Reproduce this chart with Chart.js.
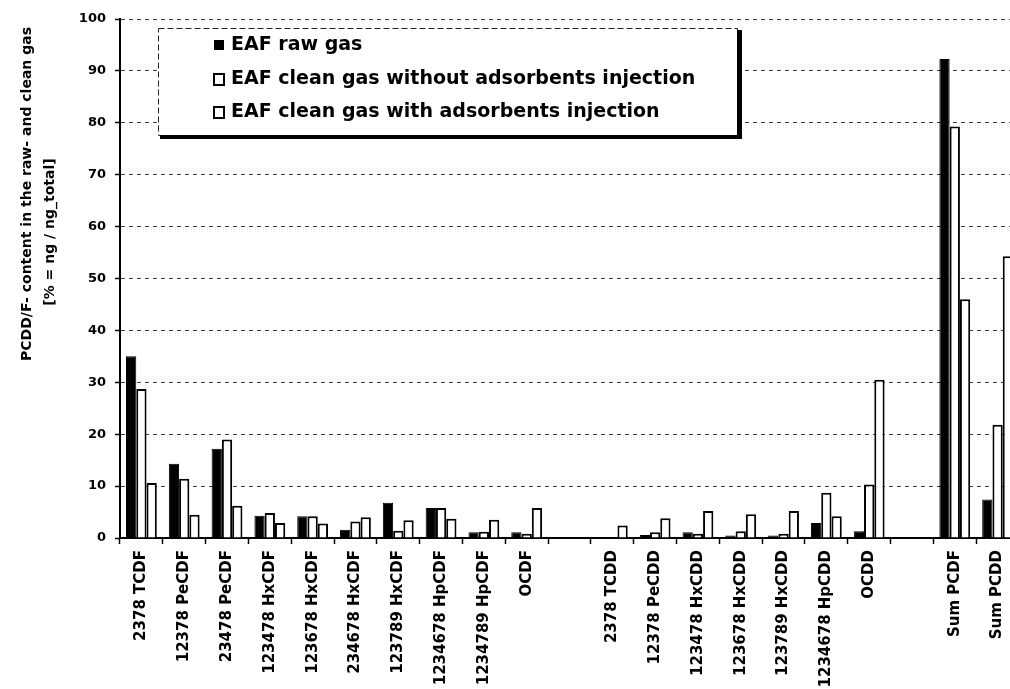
<!DOCTYPE html>
<html>
<head>
<meta charset="utf-8">
<script src="https://cdn.jsdelivr.net/npm/chart.js@4/dist/chart.umd.min.js"></script>
<style>
    html, body { margin: 0; padding: 0; background: #fff; overflow: hidden; }
    #wrap { width: 1030px; height: 689px; }
</style>
</head>
<body>
<div id="wrap"><canvas id="congenerChart"></canvas></div>
<script>
// categorieen (lege plekken = ruimte tussen groepen)
const categories = [
    '2378 TCDF', '12378 PeCDF', '23478 PeCDF', '123478 HxCDF', '123678 HxCDF',
    '234678 HxCDF', '123789 HxCDF', '1234678 HpCDF', '1234789 HpCDF', 'OCDF',
    '',
    '2378 TCDD', '12378 PeCDD', '123478 HxCDD', '123678 HxCDD', '123789 HxCDD',
    '1234678 HpCDD', 'OCDD',
    '',
    'Sum PCDF', 'Sum PCDD'
];

const rawGas = [35.0, 14.3, 17.2, 4.3, 4.2, 1.6, 6.8, 5.8, 1.1, 1.1, null,
    0.1, 0.6, 1.1, 0.5, 0.5, 2.9, 1.3, null, 92.3, 7.4];
const cleanNoAds = [28.7, 11.4, 19.0, 4.8, 4.2, 3.2, 1.4, 5.8, 1.2, 0.8, null,
    0.1, 1.1, 0.8, 1.3, 0.8, 8.7, 10.3, null, 79.3, 21.8];
const cleanWithAds = [10.6, 4.5, 6.2, 2.9, 2.8, 4.0, 3.4, 3.7, 3.5, 5.8, null,
    2.4, 3.8, 5.2, 4.6, 5.2, 4.2, 30.5, null, 46.0, 54.3];

const yTicks = [0, 10, 20, 30, 40, 50, 60, 70, 80, 90, 100];
const yTitle = ['PCDD/F- content in the raw- and clean gas', '[% = ng / ng_total]'];

const fontName = '"DejaVu Sans", sans-serif';

// legenda in een kader met schaduw, zoals in het origineel
const boxLegend = {
    id: 'boxLegend',
    afterDraw(chart) {
        const ctx = chart.ctx;
        ctx.save();
        ctx.fillStyle = '#fff';
        ctx.fillRect(158, 28, 579, 107);
        ctx.strokeStyle = '#222';
        ctx.lineWidth = 1;
        ctx.setLineDash([6, 3]);
        ctx.strokeRect(158.5, 28.5, 579, 107);
        ctx.setLineDash([]);
        ctx.fillStyle = '#000';
        ctx.fillRect(160, 135, 582, 4);
        ctx.fillRect(737, 30, 5, 109);

        ctx.font = 'bold 19px ' + fontName;
        ctx.textBaseline = 'middle';
        const rows = [45, 79, 112];
        chart.data.datasets.forEach((ds, i) => {
            const y = rows[i];
            if (i === 0) {
                ctx.fillStyle = '#000';
                ctx.fillRect(214, y - 5, 10, 10);
            } else {
                ctx.strokeStyle = '#000';
                ctx.lineWidth = 2;
                ctx.strokeRect(214, y - 5, 10, 11);
            }
            ctx.fillStyle = '#000';
            ctx.fillText(ds.label, 231, y);
        });
        ctx.restore();
    }
};

// y-as titel, twee regels verticaal
const axisTitle = {
    id: 'axisTitle',
    afterDraw(chart) {
        const ctx = chart.ctx;
        ctx.save();
        ctx.font = 'bold 14px ' + fontName;
        ctx.fillStyle = '#000';
        ctx.textAlign = 'center';
        ctx.textBaseline = 'middle';
        const pos = [[27, 194], [50, 232]];
        yTitle.forEach((t, i) => {
            ctx.save();
            ctx.translate(pos[i][0], pos[i][1]);
            ctx.rotate(-Math.PI / 2);
            ctx.fillText(t, 0, 0);
            ctx.restore();
        });
        ctx.restore();
    }
};

const ctx = document.getElementById('congenerChart').getContext('2d');
const congenerChart = new Chart(ctx, {
    type: 'bar',
    data: {
        labels: categories,
        datasets: [{
            label: 'EAF raw gas',
            data: rawGas,
            backgroundColor: '#000',
            borderColor: '#000',
            borderWidth: 1
        }, {
            label: 'EAF clean gas without adsorbents injection',
            data: cleanNoAds,
            backgroundColor: '#fff',
            borderColor: '#000',
            borderWidth: 2
        }, {
            label: 'EAF clean gas with adsorbents injection',
            data: cleanWithAds,
            backgroundColor: '#fff',
            borderColor: '#000',
            borderWidth: 2
        }]
    },
    options: {
        responsive: true,
        maintainAspectRatio: false,
        animation: false,
        layout: { padding: { top: 19, right: 11, left: 0, bottom: 0 } },
        datasets: {
            bar: { barPercentage: 1, categoryPercentage: 0.72 }
        },
        plugins: {
            legend: { display: false },
            tooltip: { enabled: false }
        },
        scales: {
            x: {
                afterFit(scale) { scale.height = 151; },
                grid: {
                    display: true,
                    drawOnChartArea: false,
                    drawTicks: true,
                    tickLength: 6,
                    tickColor: '#000',
                    tickWidth: 1.5
                },
                border: { display: true, color: '#000', width: 2 },
                ticks: {
                    color: '#000',
                    font: { family: fontName, size: 15, weight: 'bold' },
                    minRotation: 90,
                    maxRotation: 90,
                    autoSkip: false,
                    padding: 6
                }
            },
            y: {
                min: 0,
                max: 100,
                afterFit(scale) { scale.width = 120; },
                afterBuildTicks(scale) {
                    scale.ticks = yTicks.map(v => ({ value: v }));
                },
                grid: {
                    color: 'rgba(0,0,0,0.75)',
                    lineWidth: 1,
                    tickLength: 5,
                    tickColor: '#000',
                    tickWidth: 1.5
                },
                border: { display: true, color: '#000', width: 2, dash: [4, 4] },
                ticks: {
                    color: '#000',
                    font: { family: fontName, size: 13, weight: 'bold' },
                    padding: 9
                }
            }
        }
    },
    plugins: [boxLegend, axisTitle]
});
</script>
</body>
</html>
